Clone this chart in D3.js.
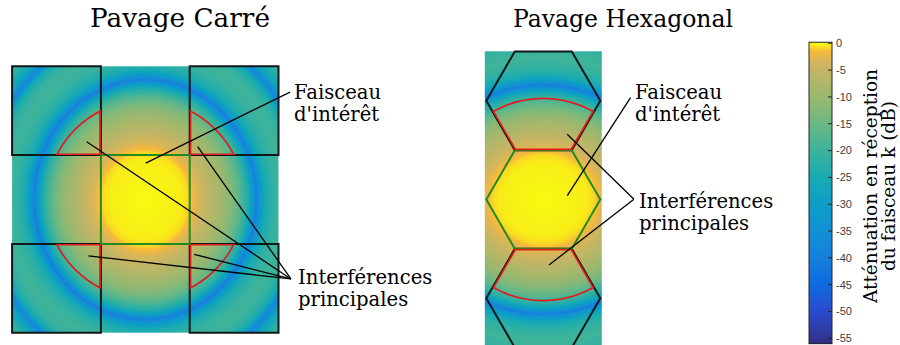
<!DOCTYPE html>
<html><head><meta charset="utf-8">
<script src="https://cdn.jsdelivr.net/npm/d3@7"></script>
<style>body{margin:0;background:#fff}svg{display:block}</style>
</head><body>
<svg id="c" width="900" height="345"></svg>
<script>
// ---------------- DATA ----------------
const titles = ["Pavage Carré", "Pavage Hexagonal"];
// radial beam profile (radius in square-tile units) -> attenuation (dB)
const profileR  = [0, 0.45, 0.53, 0.586, 0.653, 0.766, 0.901, 1.036, 1.149, 1.239, 1.306, 1.351, 1.396, 1.464, 1.577, 1.689, 1.802, 1.892, 1.959, 2.027, 2.14, 2.365];
const profileDb = [0, -0.3, -0.8, -1.8, -3.5, -5.5, -8.5, -12, -17, -23, -31, -40, -32, -25, -21, -19.5, -21, -26, -38, -28, -22, -21];
// colormap
const cmapDb     = [0, -0.6, -1.5, -3, -5, -10, -15, -20, -25, -30, -35, -40, -45, -50, -55, -56];
const cmapColors = ["#f8fa10", "#f9e020", "#f7b93c", "#dcb656", "#c4b565", "#9ab86f", "#6cb884", "#3cb39c", "#19abb2", "#0c9ec6", "#1490d6", "#1580dc", "#0f6ae0", "#2a4bcc", "#303494", "#2e2a80"];
const cbarTicks = [0, -5, -10, -15, -20, -25, -30, -35, -40, -45, -50, -55];
const cbarDomain = [0.2, -56];
const cbarLabel = ["Atténuation en réception", "du faisceau k (dB)"];
// square tiling (tile units)
const squareMain = [[0, 0]];
const squareInterf = [[-1, 1], [1, 1], [-1, -1], [1, -1]];
const squareInterfRadius = 1.127;
// hexagonal tiling (hexagon circumradius units)
const hexMain = [[0, 0]];
const hexInterf = [[0, 1.732], [0, -1.732]];
const hexInterfRadius = 1.79;
// annotations (panel units)
const annSquare = [
  {text: ["Faisceau", "d'intérêt"], at: [1.675, 1.132], from: [1.63, 1.21], to: [[0.005, 0.41]]},
  {text: ["Interférences", "principales"], at: [1.72, -0.952], from: [1.64, -0.895], to: [[-0.66, 0.65], [0.59, 0.595], [-0.64, -0.636], [0.55, -0.617]]}
];
const annHex = [
  {text: ["Faisceau", "d'intérêt"], at: [1.609, 1.758], from: [1.53, 1.786], to: [[0.42, 0.067]]},
  {text: ["Interférences", "principales"], at: [1.679, -0.149], from: [1.59, 0.0035], to: [[0.42, 1.144], [0.1, -1.149]]}
];

// ---------------- RENDER ----------------
const svg = d3.select("#c");
const prof = d3.scaleLinear().domain(profileR).range(profileDb).clamp(true);
const cmap = d3.scaleLinear().domain(cmapDb).range(cmapColors).interpolate(d3.interpolateRgb).clamp(true);
const SERIF = "'DejaVu Serif', serif";
let clipId = 0;

function squarePoly(c) { return [[c[0]-0.5, c[1]-0.5], [c[0]+0.5, c[1]-0.5], [c[0]+0.5, c[1]+0.5], [c[0]-0.5, c[1]+0.5]]; }
function hexPoly(c) { return d3.range(6).map(k => [c[0] + Math.cos(k*Math.PI/3), c[1] + Math.sin(k*Math.PI/3)]); }

function fitText(sel, target) {
  const n = sel.node(); const w = n.getComputedTextLength();
  if (w > 0) sel.attr("font-size", parseFloat(sel.attr("font-size")) * target / w);
}

function panel(cfg) {
  const x = d3.scaleLinear().domain([-1, 1]).range([cfg.cx - cfg.u, cfg.cx + cfg.u]);
  const y = d3.scaleLinear().domain([-1, 1]).range([cfg.cy + cfg.u, cfg.cy - cfg.u]);
  const g = svg.append("g");
  // heatmap
  const x0 = x(-cfg.ex), x1 = x(cfg.ex), y0 = y(cfg.ey), y1 = y(-cfg.ey);
  const w = Math.round(x1 - x0), h = Math.round(y1 - y0);
  const cv = document.createElement("canvas"); cv.width = w; cv.height = h;
  const ctx = cv.getContext("2d"); const img = ctx.createImageData(w, h);
  for (let j = 0; j < h; j++) for (let i = 0; i < w; i++) {
    const ux = x.invert(x0 + (i + 0.5) * (x1 - x0) / w), uy = y.invert(y0 + (j + 0.5) * (y1 - y0) / h);
    const r = Math.hypot(ux * cfg.kx, uy * cfg.ky);
    const c = d3.rgb(cmap(prof(r)));
    const k = (j * w + i) * 4; img.data[k] = c.r; img.data[k+1] = c.g; img.data[k+2] = c.b; img.data[k+3] = 255;
  }
  ctx.putImageData(img, 0, 0);
  g.append("image").attr("href", cv.toDataURL()).attr("x", x0).attr("y", y0)
    .attr("width", x1 - x0).attr("height", y1 - y0).attr("preserveAspectRatio", "none");
  const line = d3.line().x(d => x(d[0])).y(d => y(d[1])).curve(d3.curveLinearClosed);
  // interference tiles (black)
  g.selectAll(null).data(cfg.interf).join("path").attr("d", d => line(cfg.poly(d)))
    .attr("fill", "none").attr("stroke", "#101818").attr("stroke-width", 2);
  // main tile (green)
  g.selectAll(null).data(cfg.main).join("path").attr("d", d => line(cfg.poly(d)))
    .attr("fill", "none").attr("stroke", "#1f8c1f").attr("stroke-width", 2);
  // red regions: tile ∩ disk
  const defs = svg.append("defs");
  const cid = "circ" + (clipId++);
  defs.append("clipPath").attr("id", cid).append("circle").attr("cx", x(0)).attr("cy", y(0)).attr("r", cfg.radius * cfg.u);
  cfg.interf.forEach(d => {
    const pid = "poly" + (clipId++);
    defs.append("clipPath").attr("id", pid).append("path").attr("d", line(cfg.poly(d)));
    const rg = g.append("g").attr("clip-path", `url(#${pid})`).append("g").attr("clip-path", `url(#${cid})`);
    rg.append("path").attr("d", line(cfg.poly(d))).attr("fill", "none").attr("stroke", "#e41a1c").attr("stroke-width", 3.4);
    rg.append("circle").attr("cx", x(0)).attr("cy", y(0)).attr("r", cfg.radius * cfg.u)
      .attr("fill", "none").attr("stroke", "#e41a1c").attr("stroke-width", 3.4);
  });
  // annotations
  cfg.ann.forEach(a => {
    a.to.forEach(t => {
      g.append("line").attr("x1", x(a.from[0])).attr("y1", y(a.from[1])).attr("x2", x(t[0])).attr("y2", y(t[1]))
        .attr("stroke", "#000").attr("stroke-width", 1.3);
    });
    a.text.forEach((s, i) => {
      g.append("text").attr("x", x(a.at[0])).attr("y", y(a.at[1]) + i * 21.8)
        .attr("font-family", SERIF).attr("font-size", 19.6).attr("fill", "#000").text(s);
    });
  });
  // title
  const t = svg.append("text").attr("x", cfg.titleX).attr("y", 27).attr("text-anchor", "middle")
    .attr("font-family", SERIF).attr("font-size", 24).attr("fill", "#000").text(cfg.title);
  fitText(t, cfg.titleW);
}

panel({cx: 145.3, cy: 199.5, u: 88.8, ex: 1.5, ey: 1.5, kx: 1.08, ky: 1.0,
  poly: squarePoly, main: squareMain, interf: squareInterf, radius: squareInterfRadius,
  ann: annSquare, title: titles[0], titleX: 180, titleW: 180});
panel({cx: 543.3, cy: 199.5, u: 57, ex: 1.026, ey: 2.6, kx: 57 * 0.93 / 88.8, ky: 57 * 1.05 / 88.8,
  poly: hexPoly, main: hexMain, interf: hexInterf, radius: hexInterfRadius,
  ann: annHex, title: titles[1], titleX: 623, titleW: 220});

// ---------------- COLORBAR ----------------
const cb = svg.append("g");
const cbY = d3.scaleLinear().domain([0, -55]).range([43.3, 338.3]);
const cbX0 = 809, cbX1 = 832;
const yTop = cbY(cbarDomain[0]), yBot = cbY(cbarDomain[1]);
const rows = d3.range(Math.floor(yTop), Math.ceil(yBot));
cb.selectAll(null).data(rows).join("rect")
  .attr("x", cbX0).attr("y", d => Math.max(d, yTop)).attr("width", cbX1 - cbX0)
  .attr("height", d => Math.min(d + 1, yBot) - Math.max(d, yTop) + 0.3)
  .attr("fill", d => cmap(cbY.invert(d + 0.5)));
cb.append("rect").attr("x", cbX0).attr("y", yTop).attr("width", cbX1 - cbX0).attr("height", yBot - yTop)
  .attr("fill", "none").attr("stroke", "#262626").attr("stroke-width", 1);
cb.selectAll(null).data(cbarTicks).join("line")
  .attr("x1", cbX1 - 4).attr("x2", cbX1).attr("y1", d => cbY(d)).attr("y2", d => cbY(d))
  .attr("stroke", "#262626").attr("stroke-width", 1);
cb.selectAll(null).data(cbarTicks).join("text")
  .attr("x", cbX1 + 4).attr("y", d => cbY(d)).attr("dy", "0.35em")
  .attr("font-family", "'Liberation Sans', Arial, sans-serif").attr("font-size", 11).attr("fill", "#404040")
  .text(d => d);
const lbl = cb.selectAll(null).data(cbarLabel).join("text")
  .attr("transform", (d, i) => `translate(${i ? 895 : 876.5},186) rotate(-90)`)
  .attr("text-anchor", "middle").attr("font-family", SERIF).attr("font-size", 18.5).attr("fill", "#000")
  .text(d => d);
</script>
</body></html>
